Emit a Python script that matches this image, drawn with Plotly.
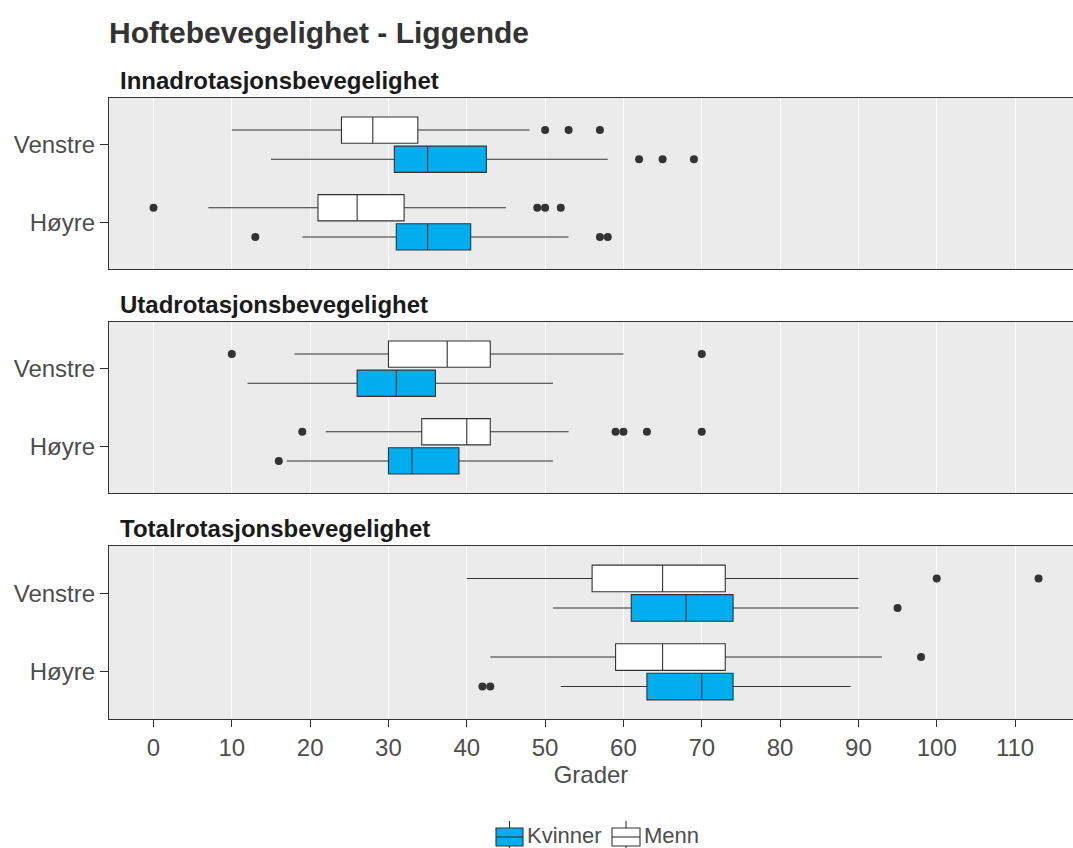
import plotly.graph_objects as go

# Facets, categories and groups
measures = ["Innadrotasjonsbevegelighet", "Utadrotasjonsbevegelighet", "Totalrotasjonsbevegelighet"]
sides = ["Venstre", "Høyre"]
groups = ["Kvinner", "Menn"]

# Box statistics per measure, each inner list is [Venstre, Høyre]
kvinner_low = [[15, 19], [12, 17], [51, 52]]
kvinner_q1 = [[30.75, 31], [26, 30], [61, 63]]
kvinner_median = [[35, 35], [31, 33], [68, 70]]
kvinner_q3 = [[42.5, 40.5], [36, 39], [74, 74]]
kvinner_high = [[58, 53], [51, 51], [90, 89]]
kvinner_outliers = [[[62, 65, 69], [13, 57, 58]],
                    [[], [16]],
                    [[95], [42, 43]]]

menn_low = [[10, 7], [18, 22], [40, 43]]
menn_q1 = [[24, 21], [30, 34.25], [56, 59]]
menn_median = [[28, 26], [37.5, 40], [65, 65]]
menn_q3 = [[33.75, 32], [43, 43], [73, 73]]
menn_high = [[48, 45], [60, 53], [90, 93]]
menn_outliers = [[[50, 53, 57], [0, 49, 50, 52]],
                 [[10, 70], [19, 59, 60, 63, 70]],
                 [[100, 113], [98]]]

x_ticks = list(range(0, 111, 10))

stats = {
    "Kvinner": (kvinner_low, kvinner_q1, kvinner_median, kvinner_q3, kvinner_high, kvinner_outliers),
    "Menn": (menn_low, menn_q1, menn_median, menn_q3, menn_high, menn_outliers),
}
fills = {"Kvinner": "#00AEEF", "Menn": "#FFFFFF"}
# vertical dodge of each group around its category
offsets = {"Kvinner": -0.1875, "Menn": 0.1875}
side_pos = {"Venstre": 2, "Høyre": 1}
box_width = 0.3375
line_col = "#333333"
text_col = "#4D4D4D"
FONT = "Liberation Sans, Arial, sans-serif"

W, H = 1073, 848
M_L, M_R, M_T, M_B = 109, 0, 98, 129
plot_w = W - M_L - M_R
plot_h = H - M_T - M_B
BOTTOM = H - M_B
# panel pixel spans (top, bottom)
panels_px = [(98, 269), (322, 493), (546, 719)]
strip_y_px = [80, 304, 528]


def px_x(px):
    return (px - M_L) / plot_w


def px_y(py):
    return (BOTTOM - py) / plot_h


fig = go.Figure()

for mi, measure in enumerate(measures):
    suffix = "" if mi == 0 else str(mi + 1)
    xa, ya = "x" + suffix, "y" + suffix
    for g in groups:
        low, q1, med, q3, high, outl = stats[g]
        pos = [side_pos[s] + offsets[g] for s in sides]
        fig.add_trace(go.Box(
            orientation="h",
            y=pos,
            lowerfence=low[mi], q1=q1[mi], median=med[mi], q3=q3[mi], upperfence=high[mi],
            width=box_width,
            fillcolor=fills[g],
            line=dict(color=line_col, width=1.1),
            whiskerwidth=0,
            name=g,
            showlegend=False,
            hoverinfo="skip",
            xaxis=xa, yaxis=ya,
        ))
        ox, oy = [], []
        for si, s in enumerate(sides):
            for v in outl[mi][si]:
                ox.append(v)
                oy.append(side_pos[s] + offsets[g])
        if ox:
            fig.add_trace(go.Scatter(
                x=ox, y=oy, mode="markers",
                marker=dict(color="#333333", size=8, line=dict(width=0)),
                showlegend=False, hoverinfo="skip",
                xaxis=xa, yaxis=ya,
            ))

layout = dict(
    width=W, height=H,
    margin=dict(l=M_L, r=M_R, t=M_T, b=M_B),
    paper_bgcolor="white",
    plot_bgcolor="#EBEBEB",
    boxmode="overlay",
    showlegend=False,
    font=dict(family=FONT, color=text_col),
    title=dict(text="<b>Hoftebevegelighet - Liggende</b>", x=M_L / W, xanchor="left",
               y=1 - 32 / H, yanchor="middle",
               font=dict(family=FONT, size=30, color="#333333")),
)

annotations = []
shapes = []
for mi, (top, bot) in enumerate(panels_px):
    suffix = "" if mi == 0 else str(mi + 1)
    is_bottom = mi == len(measures) - 1
    layout["xaxis" + suffix] = dict(
        domain=[0, 1], anchor="y" + suffix,
        range=[-5.68, 117.4],
        tickmode="array", tickvals=x_ticks, ticktext=[str(t) for t in x_ticks],
        showticklabels=is_bottom,
        ticks="outside" if is_bottom else "", ticklen=7, tickwidth=1, tickcolor="#333333",
        tickfont=dict(family=FONT, size=24, color=text_col),
        showgrid=True, gridcolor="white", gridwidth=1.2,
        zeroline=False,
        showline=True, mirror=True, linecolor="#333333", linewidth=1.2,
        title=dict(text="Grader", font=dict(family=FONT, size=24, color=text_col), standoff=4) if is_bottom else None,
    )
    if mi > 0:
        layout["xaxis" + suffix]["matches"] = "x"
    layout["yaxis" + suffix] = dict(
        domain=[px_y(bot), px_y(top)], anchor="x" + suffix,
        range=[0.4, 2.6],
        tickmode="array", tickvals=[side_pos[s] for s in sides], ticktext=sides,
        ticks="outside", ticklen=8, tickwidth=1, tickcolor="#333333",
        tickfont=dict(family=FONT, size=24, color=text_col),
        showgrid=False, zeroline=False,
        showline=True, mirror=True, linecolor="#333333", linewidth=1.2,
    )
    annotations.append(dict(
        text="<b>" + measures[mi] + "</b>",
        xref="paper", yref="paper",
        x=px_x(118), xanchor="left",
        y=px_y(strip_y_px[mi]), yanchor="middle",
        showarrow=False,
        font=dict(family=FONT, size=24, color="#1A1A1A"),
    ))

# Legend drawn below the panels: boxplot key glyph + label for each group
legend_items = [("Kvinner", 496, 523), ("Menn", 612, 640)]
key_top, key_mid, key_bot = 828, 837, 846
for g, x0, x1 in legend_items:
    xc = (x0 + x1) / 2
    shapes.append(dict(type="line", xref="paper", yref="paper",
                       x0=px_x(xc), x1=px_x(xc), y0=px_y(821), y1=px_y(key_top),
                       line=dict(color=line_col, width=1.1)))
    shapes.append(dict(type="line", xref="paper", yref="paper",
                       x0=px_x(xc), x1=px_x(xc), y0=px_y(key_bot), y1=px_y(852),
                       line=dict(color=line_col, width=1.1)))
    shapes.append(dict(type="rect", xref="paper", yref="paper",
                       x0=px_x(x0), x1=px_x(x1), y0=px_y(key_bot), y1=px_y(key_top),
                       fillcolor=fills[g], line=dict(color=line_col, width=1.1)))
    shapes.append(dict(type="line", xref="paper", yref="paper",
                       x0=px_x(x0), x1=px_x(x1), y0=px_y(key_mid), y1=px_y(key_mid),
                       line=dict(color=line_col, width=1.1)))
    annotations.append(dict(
        text=g, xref="paper", yref="paper",
        x=px_x(x1 + 2), xanchor="left", y=px_y(835), yanchor="middle",
        showarrow=False, font=dict(family=FONT, size=22, color=text_col),
    ))

layout["annotations"] = annotations
layout["shapes"] = shapes
fig.update_layout(**layout)

fig.write_html("out.html")
